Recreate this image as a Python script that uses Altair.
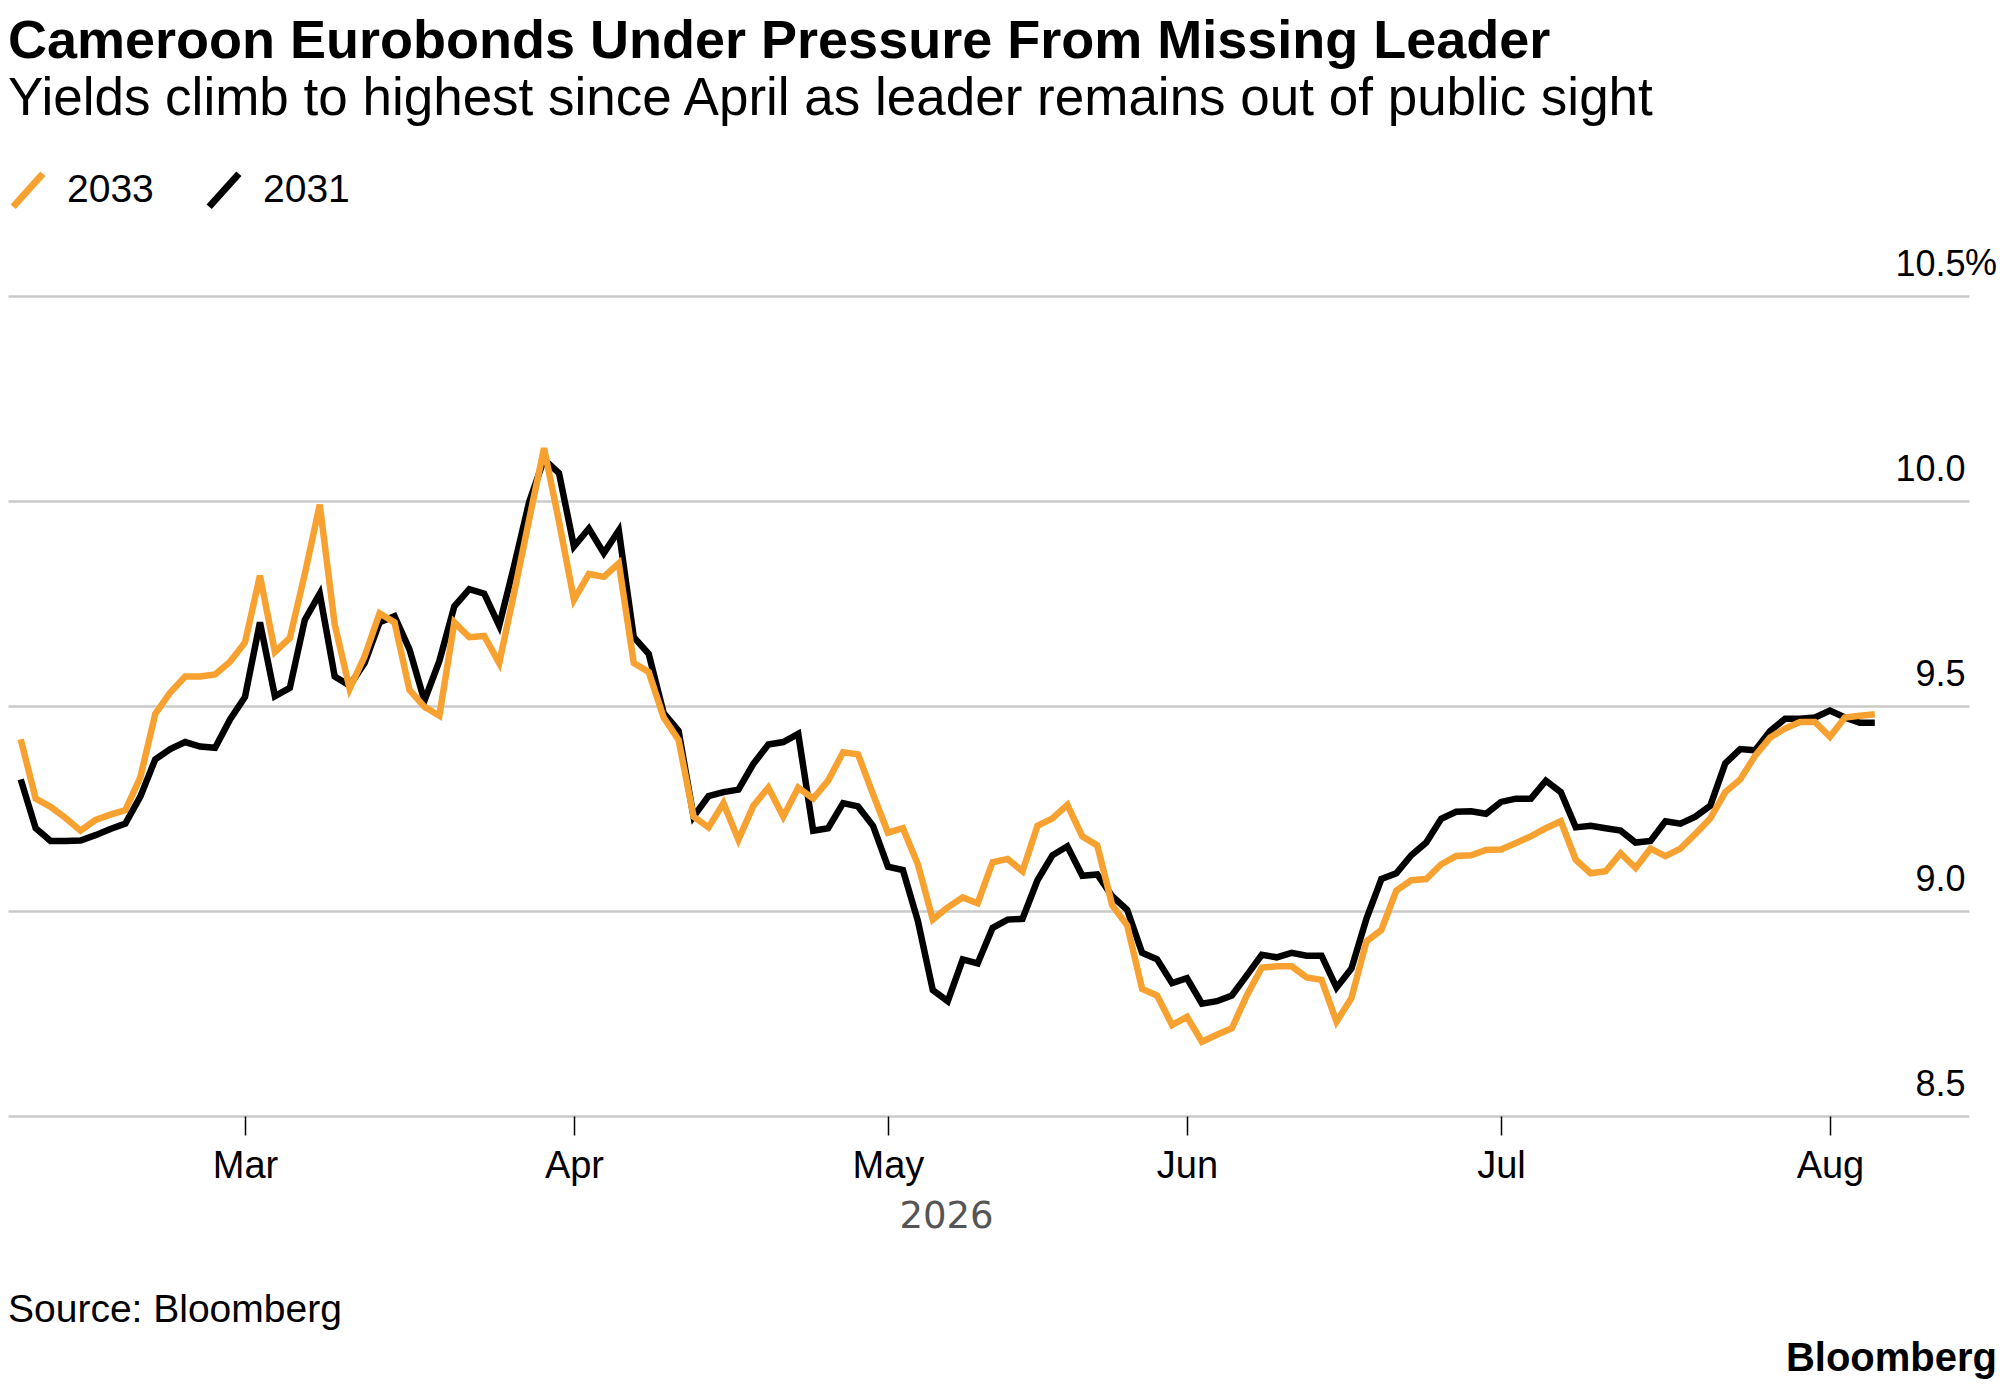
import altair as alt
import pandas as pd

TITLE = "Cameroon Eurobonds Under Pressure From Missing Leader"
SUBTITLE = "Yields climb to highest since April as leader remains out of public sight"
SOURCE = "Source: Bloomberg"
BRAND = "Bloomberg"
YEAR = "2026"

# trading days only: the x axis skips weekends and US bond-market holidays
START, END = "2026-02-06", "2026-08-06"
HOLIDAYS = ["2026-02-16", "2026-04-03", "2026-05-25", "2026-06-19", "2026-07-03"]

SERIES = ["2033", "2031"]
COLORS = ["#F7A130", "#000000"]

YIELD_2033 = [
    9.419, 9.274, 9.254, 9.227, 9.196, 9.222, 9.235, 9.246, 9.326, 9.481,
    9.533, 9.572, 9.572, 9.577, 9.608, 9.655, 9.818, 9.632, 9.666, 9.822,
    9.991, 9.699, 9.542, 9.621, 9.726, 9.704, 9.539, 9.498, 9.476, 9.704,
    9.668, 9.671, 9.605, 9.776, 9.954, 10.129, 9.950, 9.759, 9.822, 9.815,
    9.848, 9.605, 9.583, 9.472, 9.417, 9.230, 9.204, 9.263, 9.174, 9.257,
    9.301, 9.230, 9.301, 9.274, 9.318, 9.387, 9.382, 9.285, 9.191, 9.202,
    9.114, 8.979, 9.009, 9.033, 9.019, 9.119, 9.127, 9.097, 9.208, 9.226,
    9.259, 9.182, 9.160, 9.014, 8.965, 8.810, 8.794, 8.722, 8.742, 8.681,
    8.698, 8.714, 8.794, 8.862, 8.865, 8.865, 8.838, 8.832, 8.730, 8.788,
    8.926, 8.954, 9.050, 9.075, 9.078, 9.114, 9.134, 9.136, 9.149, 9.150,
    9.166, 9.182, 9.202, 9.219, 9.125, 9.092, 9.097, 9.141, 9.105, 9.152,
    9.134, 9.152, 9.188, 9.226, 9.290, 9.321, 9.379, 9.423, 9.445, 9.461,
    9.461, 9.425, 9.472, 9.476, 9.480,
]

YIELD_2031 = [
    9.321, 9.202, 9.171, 9.171, 9.172, 9.185, 9.200, 9.213, 9.279, 9.370,
    9.395, 9.412, 9.401, 9.398, 9.467, 9.522, 9.704, 9.524, 9.544, 9.710,
    9.774, 9.572, 9.550, 9.605, 9.704, 9.719, 9.638, 9.513, 9.610, 9.743,
    9.785, 9.774, 9.696, 9.842, 9.997, 10.102, 10.068, 9.889, 9.933, 9.873,
    9.928, 9.668, 9.627, 9.483, 9.439, 9.230, 9.280, 9.290, 9.296, 9.359,
    9.406, 9.412, 9.432, 9.196, 9.202, 9.263, 9.255, 9.208, 9.108, 9.100,
    8.976, 8.807, 8.780, 8.882, 8.872, 8.959, 8.979, 8.981, 9.075, 9.136,
    9.158, 9.086, 9.089, 9.036, 9.003, 8.898, 8.882, 8.824, 8.836, 8.774,
    8.780, 8.794, 8.843, 8.893, 8.887, 8.898, 8.891, 8.891, 8.813, 8.860,
    8.981, 9.078, 9.092, 9.136, 9.167, 9.225, 9.242, 9.243, 9.237, 9.266,
    9.274, 9.274, 9.318, 9.290, 9.204, 9.208, 9.202, 9.196, 9.167, 9.171,
    9.219, 9.213, 9.230, 9.257, 9.360, 9.395, 9.392, 9.439, 9.469, 9.469,
    9.472, 9.489, 9.472, 9.459, 9.459,
]

Y_TICKS = [8.5, 9.0, 9.5, 10.0, 10.5]

FONT = "Liberation Sans"
W, H = 1961, 820          # plot area
PAD = {"left": 0, "top": 288, "right": 28, "bottom": 264}

days = pd.bdate_range(START, END, freq="C", holidays=HOLIDAYS)
assert len(days) == len(YIELD_2033) == len(YIELD_2031)
n = len(days)

df = pd.DataFrame({
    "i": list(range(n)) * 2,
    "date": list(days.strftime("%Y-%m-%d")) * 2,
    "bond": [SERIES[0]] * n + [SERIES[1]] * n,
    "yield": YIELD_2033 + YIELD_2031,
})

# month ticks sit on the first trading day of each month
month_ticks = [i for i in range(1, n) if days[i].month != days[i - 1].month]
month_labels = [days[i].strftime("%b") for i in month_ticks]

x_scale = alt.Scale(domain=[-0.85, 130.3], nice=False, zero=False)
y_scale = alt.Scale(domain=[8.5, 10.5], nice=False, zero=False)
color_scale = alt.Scale(domain=SERIES, range=COLORS)

x_enc = alt.X(
    "i:Q", scale=x_scale, title=YEAR,
    axis=alt.Axis(values=month_ticks,
                  labelExpr=f"{month_labels}[indexof({month_ticks}, datum.value)]",
                  grid=False, domain=False, ticks=True, tickSize=19, tickColor="#000000",
                  tickWidth=1.5, labelFontSize=38, labelColor="#000000", labelFont=FONT,
                  labelBaseline="alphabetic", labelPadding=42, labelFlush=False,
                  titleFont="DejaVu Sans", titleFontSize=37, titleFontWeight="normal",
                  titleColor="#555555", titleX=938, titleY=111, titleAlign="center",
                  titleBaseline="alphabetic"),
)
y_enc = alt.Y(
    "yield:Q", scale=y_scale, title=None,
    axis=alt.Axis(orient="right", values=Y_TICKS, format=".1f", domain=False, ticks=False,
                  tickSize=0, grid=True, gridColor="#CACACA", gridWidth=2.5,
                  labelFontSize=36, labelColor="#000000", labelFont=FONT, labelAlign="right",
                  labelBaseline="alphabetic", labelPadding=-4, labelOffset=-21),
)
color_enc = alt.Color(
    "bond:N", scale=color_scale, title=None,
    legend=alt.Legend(orient="none", legendX=0, legendY=-126, direction="horizontal",
                      symbolType="M-0.9,1L0.9,-1", symbolSize=1089, symbolStrokeWidth=7,
                      labelFontSize=39, labelFont=FONT, labelColor="#000000",
                      labelOffset=19, columnPadding=41, padding=0),
)

base = alt.Chart(df).mark_line(strokeWidth=6.5, strokeJoin="miter").encode(
    x=x_enc, y=y_enc, color=color_enc)

line_2031 = base.transform_filter(alt.datum.bond == SERIES[1])
line_2033 = base.transform_filter(alt.datum.bond == SERIES[0])

one = pd.DataFrame({"k": [0]})


def label(text, x, y, size, weight="normal", align="left", color="#000000"):
    return alt.Chart(one).mark_text(
        text=text, align=align, baseline="alphabetic", fontSize=size,
        fontWeight=weight, font=FONT, color=color,
    ).encode(x=alt.value(x), y=alt.value(y))


percent = alt.Chart(one).mark_text(
    text="%", align="left", baseline="alphabetic", fontSize=36, font=FONT,
    color="#000000", dy=-21,
).encode(x=alt.value(W - 4), y=alt.datum(Y_TICKS[-1], scale=y_scale))

chart = (
    alt.layer(
        line_2031, line_2033, percent,
        label(TITLE, 0, -238, 54, weight="bold"),
        label(SUBTITLE, 0, -181, 53),
        label(SOURCE, 0, 1026, 39),
        label(BRAND, W + PAD["right"], 1075, 40, weight="bold", align="right"),
    )
    .properties(width=W, height=H, padding=PAD, background="#ffffff",
                autosize=alt.AutoSizeParams(type="none"))
    .configure_view(stroke=None)
)

chart.save("out.html", embed_options={"renderer": "svg", "actions": False})
